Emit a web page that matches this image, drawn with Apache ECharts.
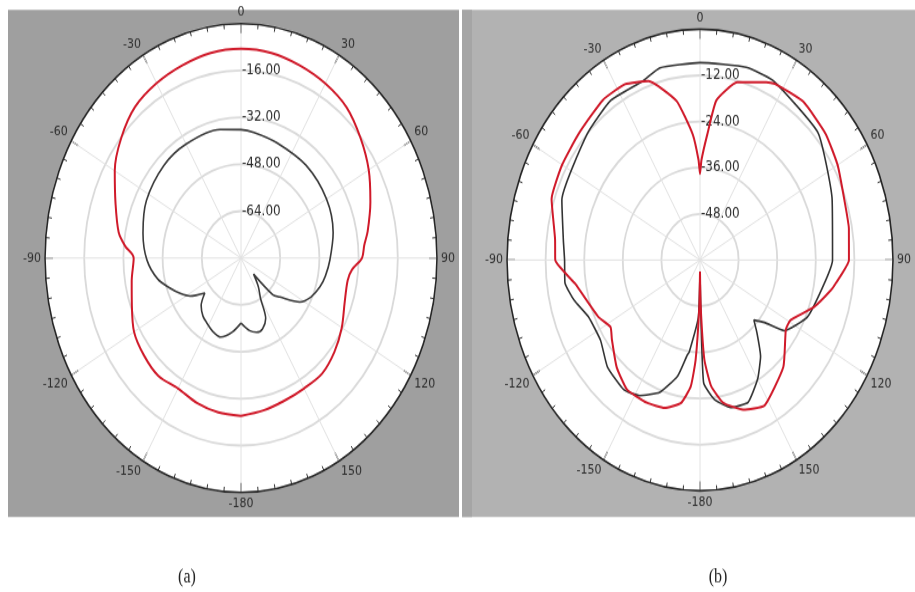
<!DOCTYPE html>
<html>
<head>
<meta charset="utf-8">
<script src="https://cdn.jsdelivr.net/npm/echarts@6/dist/echarts.min.js"></script>
<style>
  html, body { margin: 0; padding: 0; background: #fff; overflow: hidden; }
  #wrap { width: 915px; height: 592px; overflow: hidden; }
  /* the original polar plots are stretched into ellipses, so the whole canvas is stretched */
  #chart { width: 915px; height: 495px; transform: scaleY(1.196); transform-origin: 0 0; }
</style>
</head>
<body>
<div id="wrap"><div id="chart"></div></div>
<script>
// angle tick labels (degrees)
const angleLabels = [0, 30, 60, 90, 120, 150, -180, -150, -120, -90, -60, -30]

// (a) outer pattern, red
const redAngA = [-180, -170, -160, -150, -140, -130, -120, -110, -100, -90, -85, -80, -70, -60, -50, -40, -30, -20, -10, 0,
  10, 20, 30, 40, 50, 60, 70, 80, 85, 90, 95, 100, 110, 120, 130, 140, 150, 160, 170, 180]
const redA = [-26.1, -26.5, -27.4, -28.6, -27.5, -28.3, -29.6, -32.6, -34.7, -36.2, -32.5, -29.3, -25.5, -20.5, -16.2, -12.7, -11.1, -10, -8.9, -8.6,
  -8.9, -10, -11.2, -12.9, -16.3, -19.8, -23.8, -27.5, -29.5, -30.6, -34.5, -35.8, -35, -32.5, -30.2, -28.5, -28.6, -28.2, -27.2, -26.1]

// (a) inner pattern, dark
const innerAngA = [-180, -172, -163, -155, -148, -142, -135, -129, -122, -116, -110, -102, -91, -78, -63, -45, -30, -11, 0, 7,
  20, 40, 60, 77, 91, 100, 107, 115, 122, 130, 134, 137, 144, 150, 154, 160, 166, 172, 180]
const innerA = [-57.8, -54.5, -51.8, -52.5, -53.8, -54.8, -57, -61, -55.5, -52.4, -49.5, -45.3, -41.6, -39.1, -36.7, -35.4, -35.1, -35.3, -36.2, -36.8,
  -38, -38.7, -39.7, -41.4, -43.7, -45, -46.3, -48.5, -51.7, -59.3, -62, -72.5, -68, -64, -57, -54.3, -53.9, -55, -57.8]

// (b) red pattern
const redAngB = [-180, -179, -177, -175, -171, -164, -156, -146, -137, -127, -122, -115, -99, -90, -83, -71, -60, -49, -36, -27,
  -19, -10, -4, -1, 0, 1, 4, 7, 14, 24, 27, 38, 50, 60, 71, 80, 90, 98, 101, 109,
  119, 124, 137, 152, 161, 169, 174, 177, 179, 180]
const redB = [-57, -48, -34, -27, -22.4, -20, -19.4, -19.4, -22, -25.7, -27.2, -25.1, -20.7, -15, -14.6, -11.2, -10.5, -10, -8.6, -8.7,
  -10.8, -18, -27.2, -34, -37.6, -34, -27.2, -18.2, -12.4, -9.4, -8.6, -7.8, -9, -10.6, -12.5, -13, -13.7, -17.3, -18.6, -22.5,
  -27.8, -27.8, -22, -17.2, -18.9, -22.2, -27.1, -34.1, -48, -57]

// (b) black pattern
const blkAngB = [-180, -178, -172, -171, -167, -160, -152, -145, -134, -124, -113, -105, -98, -90, -83, -70, -47, -34, -21, -14, 0,
  16, 26, 48, 69, 90, 99, 114, 125, 129, 133, 137, 143, 150, 158, 166, 173, 178, 180]
const blkB = [-57, -45, -35.8, -35.1, -29, -23.4, -20.1, -18.8, -20, -22.7, -22.3, -19.5, -17.6, -17.9, -17.2, -14.3, -12, -10.1, -10.2, -8.5, -8.7,
  -7.9, -8.1, -10.6, -16, -18.8, -20.9, -23.5, -28, -34.2, -37.1, -34, -28.7, -24.2, -20.1, -20.5, -23.5, -28.1, -57]

const K = 1.196 // vertical stretch, see css
const polarA = { cx: 241, cy: 258 / K, r: 196 }
const polarB = { cx: 700, cy: 260 / K, r: 193 }

// polar wants [radius, angle], angle axis runs 0..360 clockwise from the top
const toPolar = (angs, vals) => angs.map((a, i) => [vals[i], (a + 360) % 360])

const fmtAngle = v => {
  if (v === 360) return ''
  const d = v >= 180 ? v - 360 : v
  return angleLabels.indexOf(d) >= 0 ? String(d) : ''
}

function angleAxis(idx) {
  return {
    polarIndex: idx,
    type: 'value',
    min: 0,
    max: 360,
    interval: 30,
    startAngle: 90,
    clockwise: true,
    z: 3,
    axisLine: { lineStyle: { color: '#262626', width: 1.6 } },
    axisTick: { inside: true, length: 8, lineStyle: { color: '#262626', width: 1.2 } },
    minorTick: { show: true, splitNumber: 6, length: 4, lineStyle: { color: '#333', width: 1 } },
    axisLabel: { margin: 4, color: '#2e2e2e', fontSize: 11, fontFamily: 'DejaVu Sans', formatter: fmtAngle },
    splitLine: { show: true, lineStyle: { color: '#e2e2e2', width: 1 } }
  }
}

function radiusAxis(idx, min, step) {
  return {
    polarIndex: idx,
    type: 'value',
    min: min,
    max: 0,
    interval: step,
    z: 3,
    axisLine: { show: false },
    axisTick: { show: false },
    axisLabel: {
      align: 'left',
      margin: -1,
      color: '#2e2e2e',
      fontSize: 12,
      fontFamily: 'DejaVu Sans',
      formatter: v => (v === min || v === 0 ? '' : v.toFixed(2))
    },
    splitLine: { show: true, lineStyle: { color: '#dadada', width: 1.8 } }
  }
}

function curve(idx, angs, vals, color, width, smooth) {
  return {
    type: 'line',
    coordinateSystem: 'polar',
    polarIndex: idx,
    showSymbol: false,
    smooth: smooth,
    z: 5,
    lineStyle: { color: color, width: width },
    data: toPolar(angs, vals)
  }
}

const chart = echarts.init(document.getElementById('chart'))
chart.setOption({
  animation: false,
  backgroundColor: '#fff',
  polar: [
    { center: [polarA.cx, polarA.cy], radius: polarA.r },
    { center: [polarB.cx, polarB.cy], radius: polarB.r }
  ],
  angleAxis: [angleAxis(0), angleAxis(1)],
  radiusAxis: [radiusAxis(0, -80, 16), radiusAxis(1, -60, 12)],
  graphic: [
    { type: 'rect', z: -10, shape: { x: 8, y: 10 / K, width: 451, height: 507 / K }, style: { fill: '#9f9f9f' } },
    { type: 'rect', z: -10, shape: { x: 462, y: 10 / K, width: 453, height: 507 / K }, style: { fill: '#b2b2b2' } },
    { type: 'rect', z: -9, shape: { x: 462, y: 10 / K, width: 10, height: 507 / K }, style: { fill: '#a5a5a5' } },
    // white plot discs
    { type: 'circle', z: -8, shape: { cx: polarA.cx, cy: polarA.cy, r: polarA.r }, style: { fill: '#fff' } },
    { type: 'circle', z: -8, shape: { cx: polarB.cx, cy: polarB.cy, r: polarB.r }, style: { fill: '#fff' } },
    { type: 'text', z: 10, x: 187, y: 578 / K, style: { text: '(a)', font: '16px "Liberation Serif"', fill: '#222', align: 'center', verticalAlign: 'middle' } },
    { type: 'text', z: 10, x: 718, y: 578 / K, style: { text: '(b)', font: '16px "Liberation Serif"', fill: '#222', align: 'center', verticalAlign: 'middle' } }
  ],
  series: [
    curve(0, innerAngA, innerA, '#3a3a3a', 1.6, 0.3),
    curve(0, redAngA, redA, '#d01a2a', 2, 0.3),
    curve(1, blkAngB, blkB, '#333333', 1.6, 0.15),
    curve(1, redAngB, redB, '#d01a2a', 2, 0.15)
  ]
})
</script>
</body>
</html>
